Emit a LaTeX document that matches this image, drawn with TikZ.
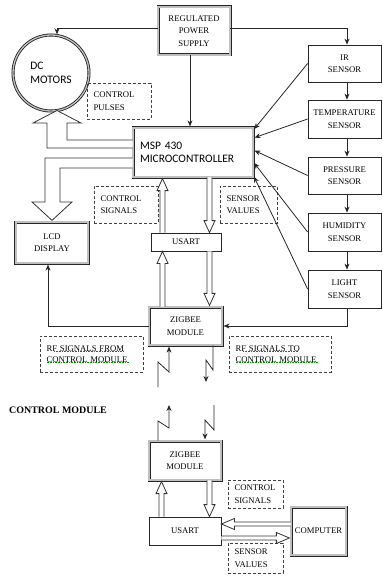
\documentclass[tikz,border=0pt]{standalone}
\usepackage{fontspec}
\setmainfont{Liberation Serif}
\newfontfamily\calfont{Carlito}
\usetikzlibrary{calc,arrows.meta}
\newcommand{\hollowarr}[5]{%
  \coordinate (hab) at ($(#2)!#5!(#1)$);
  \filldraw[hollow] ($(#1)!#3!90:(#2)$) -- ($(hab)!#3!90:(#2)$) -- ($(hab)!#4!90:(#2)$) -- (#2)
    -- ($(hab)!#4!-90:(#2)$) -- ($(hab)!#3!-90:(#2)$) -- ($(#1)!#3!-90:(#2)$);
}
\begin{document}
\begin{tikzpicture}[x=1bp,y=-1bp,
  font=\fontsize{8.7}{12.5}\selectfont,
  dblbox/.style={draw=black!85, double=gray!50, double distance=1.3bp, line width=0.85bp, align=center, inner sep=0pt},
  sbox/.style={draw=black!85, line width=0.8bp, align=center, inner sep=0pt},
  dbox/.style={draw=black!75, line width=0.9bp, dash pattern=on 3bp off 2bp, align=left, inner xsep=6.5bp, inner ysep=0pt},
  conn/.style={draw=black!85, line width=0.8bp},
  arr/.style={conn, -{Stealth[length=6bp,width=5bp]}},
  arrd/.style={arr, shorten >=1.2bp},
  hollow/.style={draw=black!80, line width=0.8bp, fill=white},
  uline/.style={draw=green!55!black, line width=0.7bp, dash pattern=on 0.8bp off 0.8bp}
]
\useasboundingbox (0,0) rectangle (382,582);

% nodes
\node[dblbox, minimum width=72bp, minimum height=48bp] (ps) at (194,31) {REGULATED\\POWER\\SUPPLY};
\node[dblbox, circle, minimum size=76bp, align=left, font=\calfont\fontsize{11.5}{14}\selectfont] (motors) at (51,73) {DC\\MOTORS};
\node[dbox, text width=51bp, minimum height=36bp] (pulses) at (119,101) {CONTROL\\PULSES};

\node[sbox, minimum width=73bp, minimum height=37bp] (ir) at (344.5,63.5) {IR\\SENSOR};
\node[sbox, minimum width=73bp, minimum height=38bp] (temp) at (344.5,119) {TEMPERATURE\\SENSOR};
\node[sbox, minimum width=73bp, minimum height=37bp] (pres) at (344.5,175.5) {PRESSURE\\SENSOR};
\node[sbox, minimum width=73bp, minimum height=38bp] (hum) at (344.5,232) {HUMIDITY\\SENSOR};
\node[sbox, minimum width=73bp, minimum height=38bp] (light) at (344.5,289) {LIGHT\\SENSOR};

\node[dblbox, minimum width=120bp, minimum height=49bp, align=left, text width=106bp, inner xsep=7bp,
  font=\calfont\fontsize{11.5}{13}\selectfont] (msp) at (193,152.5) {MSP 430\\MICROCONTROLLER};

\node[dblbox, minimum width=72bp, minimum height=41bp] (lcd) at (52,242.5) {LCD\\DISPLAY};
\node[dbox, text width=51bp, minimum height=37bp] (ctrlsig) at (126,204.5) {CONTROL\\SIGNALS};
\node[dbox, text width=44bp, minimum height=37bp] (sensval) at (248.5,204.5) {SENSOR\\VALUES};
\node[sbox, minimum width=70bp, minimum height=18bp] (usart) at (186,242) {USART};
\node[dblbox, minimum width=73bp, minimum height=38bp] (zigbee) at (185.5,326) {ZIGBEE\\MODULE};
\node[dbox, text width=90bp, minimum height=36bp, font=\fontsize{8.7}{11}\selectfont] (rffrom) at (91.5,354) {RF SIGNALS FROM\\CONTROL MODULE};
\node[dbox, text width=89bp, minimum height=36bp, font=\fontsize{8.7}{11}\selectfont] (rfto) at (280,354) {RF SIGNALS TO\\CONTROL MODULE};

\node[anchor=west, inner sep=0pt, font=\bfseries\fontsize{10}{12}\selectfont] (cm) at (9,410) {CONTROL MODULE};
\node[dblbox, minimum width=72bp, minimum height=39bp] (zig2) at (185,460.5) {ZIGBEE\\MODULE};
\node[sbox, minimum width=72bp, minimum height=28bp] (usart2) at (185,531) {USART};
\node[dblbox, minimum width=55bp, minimum height=48bp] (computer) at (318.5,531) {COMPUTER};
\node[dbox, text width=42bp, minimum height=28bp] (cs2) at (255.5,494) {CONTROL\\SIGNALS};
\node[dbox, text width=42bp, minimum height=30bp] (sv2) at (255.5,558) {SENSOR\\VALUES};

% spelling underlines
\draw[uline] ($(rffrom.west)+(14.5,-3)$) -- ($(rffrom.west)+(84,-3)$);
\draw[uline] ($(rffrom.west)+(7,8)$) -- ($(rffrom.west)+(90,8)$);
\draw[uline] ($(rfto.west)+(14.5,-3)$) -- ($(rfto.west)+(70,-3)$);
\draw[uline] ($(rfto.west)+(7,8)$) -- ($(rfto.west)+(90,8)$);

% thin connectors
\coordinate (mt) at (57,35.5);
\coordinate (col) at (347,0);
\coordinate (v1) at (190,0);
\coordinate (lc) at (48,0);
\draw[arrd] ([yshift=3bp]ps.west) -| (mt);
\draw[arr] ([yshift=3bp]ps.east) -| (ir.north -| col);
\draw[arrd] (ps.south -| v1) -- (msp.north -| v1);
\draw[arr] (ir.south -| col) -- (temp.north -| col);
\draw[arr] (temp.south -| col) -- (pres.north -| col);
\draw[arr] (pres.south -| col) -- (hum.north -| col);
\draw[arr] (hum.south -| col) -- (light.north -| col);
\draw[arrd] (ir.west) -- ([yshift=22.5bp]msp.east);
\draw[arrd] (temp.west) -- ([yshift=14.5bp]msp.east);
\draw[arrd] (pres.west) -- ([yshift=2.5bp]msp.east);
\draw[arrd] (hum.west) -- ([yshift=-9.5bp]msp.east);
\draw[arrd] (light.west) -- ([yshift=-23bp]msp.east);
\draw[arrd] (light.south -| col) |- (zigbee.east);
\draw[arrd] (zigbee.west) -| (lcd.south -| lc);

% lightning arrows
\coordinate (z1) at (169,0);
\coordinate (z2) at (213,0);
\coordinate (z3) at (158,0);
\coordinate (z4) at (205,0);
\coordinate (l1) at (158,387);
\coordinate (l2) at (206,382);
\coordinate (l3) at (169,405);
\coordinate (l4) at (214,405);
\draw[arrd] (l1) -- (158,362) -- (169,372) -- (zigbee.south -| z1);
\draw[arr] (zigbee.south -| z2) -- (213,370) -- (206,360) -- (l2);
\draw[arr] (zig2.north -| z3) -- (158,421) -- (169,428) -- (l3);
\draw[arrd] (l4) -- (214,430) -- (205,420) -- (zig2.north -| z4);

% big hollow arrows
\filldraw[hollow] ([yshift=4.5bp]msp.west) -- (47,148) -- (47,123) -- (33,123) -- (57,110.5)
  -- (81,123) -- (67,123) -- (67,140) -- ([yshift=12.5bp]msp.west);
\filldraw[hollow] ([yshift=-5.5bp]msp.west) -- (45,158) -- (45,202) -- (32,202) -- ([yshift=1.2bp]lcd.north)
  -- (72,202) -- (60,202) -- (60,168) -- ([yshift=-15.5bp]msp.west);

% small hollow arrows
\coordinate (xL) at (162.5,0);
\coordinate (xR) at (209.5,0);
\coordinate (a1s) at (usart.north -| xL);
\coordinate (a1e) at ([yshift=-1.2bp]msp.south -| xL);
\coordinate (a2s) at (msp.south -| xR);
\coordinate (a2e) at (usart.north -| xR);
\coordinate (a3s) at (zigbee.north -| xL);
\coordinate (a3e) at (usart.south -| xL);
\coordinate (a4s) at (usart.south -| xR);
\coordinate (a4e) at ([yshift=1.2bp]zigbee.north -| xR);
\hollowarr{a1s}{a1e}{2.5bp}{5.5bp}{12bp}
\hollowarr{a2s}{a2e}{2.5bp}{5.5bp}{12bp}
\hollowarr{a3s}{a3e}{2.5bp}{5.5bp}{12bp}
\hollowarr{a4s}{a4e}{2.5bp}{5.5bp}{12bp}

\coordinate (xL2) at (161.5,0);
\coordinate (xR2) at (209.5,0);
\coordinate (yA) at (0,524);
\coordinate (yB) at (0,538);
\coordinate (b1s) at (usart2.north -| xL2);
\coordinate (b1e) at ([yshift=-1.2bp]zig2.south -| xL2);
\coordinate (b2s) at (zig2.south -| xR2);
\coordinate (b2e) at (usart2.north -| xR2);
\coordinate (b3s) at (computer.west |- yA);
\coordinate (b3e) at (usart2.east |- yA);
\coordinate (b4s) at (usart2.east |- yB);
\coordinate (b4e) at ([xshift=-1.2bp]computer.west |- yB);
\hollowarr{b1s}{b1e}{2.5bp}{5.5bp}{12bp}
\hollowarr{b2s}{b2e}{2.5bp}{5.5bp}{12bp}
\hollowarr{b3s}{b3e}{2bp}{5.5bp}{13bp}
\hollowarr{b4s}{b4e}{2bp}{5.5bp}{13bp}
\end{tikzpicture}
\end{document}
